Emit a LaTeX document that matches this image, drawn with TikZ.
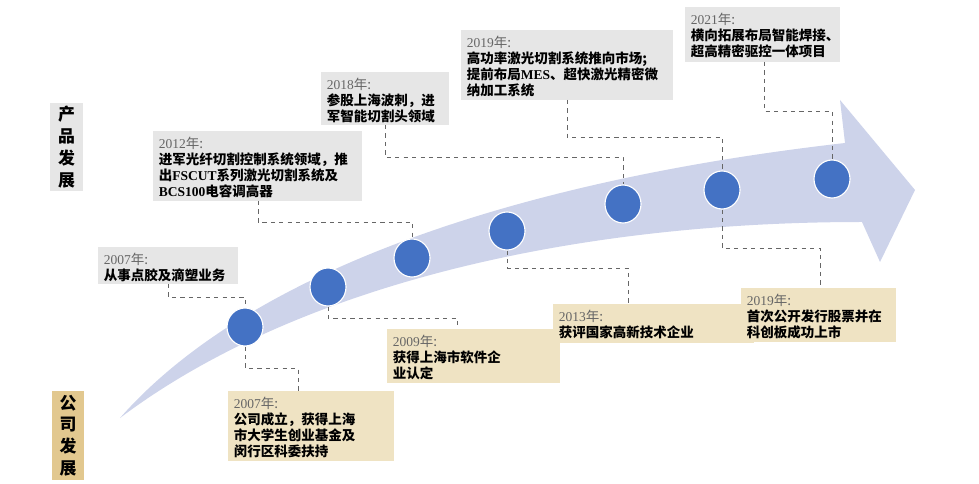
\documentclass[tikz,border=0pt]{standalone}
\usepackage{fontspec}
\usetikzlibrary{shapes.geometric}
\setmainfont{Liberation Serif}
\newfontfamily\cjk{Noto Sans CJK SC}
\definecolor{evgray}{RGB}{230,230,230}
\definecolor{evtan}{RGB}{239,227,195}
\definecolor{evdark}{RGB}{226,200,143}
\definecolor{evband}{RGB}{205,211,234}
\definecolor{evdot}{RGB}{68,114,196}
\newcommand{\yr}[1]{{\color{black!60}\rmfamily\mdseries #1\cjk 年:}\\}
\begin{document}
\begin{tikzpicture}[x=0.025cm,y=-0.025cm]
    \tikzstyle{every node}=[font=\cjk\fontsize{9.6}{11.4}\selectfont]
    \tikzset{evbox/.style={anchor=north west,inner sep=4pt,align=left,font=\cjk\bfseries\fontsize{9.6}{11.4}\selectfont},
             dot/.style={ellipse,fill=evdot,draw=white,line width=0.8pt,inner sep=0pt,minimum width=0.9cm,minimum height=0.95cm},
             link/.style={dashed,draw=black!60,line width=0.7pt}}
    \useasboundingbox (0,0) rectangle (979,484);
    % band
    \fill[evband] (120,418) .. controls (250,270) and (520,180) .. (845,143)
        -- (840,100) -- (915,190) -- (880,262) -- (862,222)
        .. controls (560,222) and (290,290) .. cycle;
    % side labels
    \fill[evgray] (50,103) rectangle (83,191);
    \node[align=center,font=\cjk\bfseries\fontsize{12}{15.5}\selectfont] (prod) at (66.5,147) {产\\品\\发\\展};
    \fill[evdark] (52,391) rectangle (84,480);
    \node[align=center,font=\cjk\bfseries\fontsize{12}{15.5}\selectfont] (comp) at (68,435.5) {公\\司\\发\\展};
    % boxes
    \fill[evgray] (98,247) rectangle (238,284);
    \node[evbox] (a) at (98,247) {\yr{2007}从事点胶及滴塑业务};
    \fill[evgray] (153,131) rectangle (362,201);
    \node[evbox] (b) at (153,131) {\yr{2012}进军光纤切割控制系统领域，推\\出{\rmfamily FSCUT}系列激光切割系统及\\{\rmfamily BCS100}电容调高器};
    \fill[evgray] (321,72) rectangle (449,125);
    \node[evbox] (c) at (321,72) {\yr{2018}参股上海波刺，进\\军智能切割头领域};
    \fill[evgray] (461,30) rectangle (673,100);
    \node[evbox] (d) at (461,30) {\yr{2019}高功率激光切割系统推向市场;\\提前布局{\rmfamily MES}、超快激光精密微\\纳加工系统};
    \fill[evgray] (685,7) rectangle (840,62);
    \node[evbox] (e) at (685,7) {\yr{2021}横向拓展布局智能焊接、\\超高精密驱控一体项目};
    \fill[evtan] (228,391) rectangle (394,461);
    \node[evbox] (f) at (228,391) {\yr{2007}公司成立，获得上海\\市大学生创业基金及\\闵行区科委扶持};
    \fill[evtan] (387,329) rectangle (560,383);
    \node[evbox] (g) at (387,329) {\yr{2009}获得上海市软件企\\业认定};
    \fill[evtan] (553,304) rectangle (754,343);
    \node[evbox] (h) at (553,304) {\yr{2013}获评国家高新技术企业};
    \fill[evtan] (741,288) rectangle (896,342);
    \node[evbox] (k) at (741,288) {\yr{2019}首次公开发行股票并在\\科创板成功上市};
    % dots
    \node[dot] (c1) at (245,327) {};
    \node[dot] (c2) at (328,287) {};
    \node[dot] (c3) at (412,258) {};
    \node[dot] (c4) at (507,231) {};
    \node[dot] (c5) at (623,204) {};
    \node[dot] (c6) at (722,190) {};
    \node[dot] (c7) at (832,179) {};
    % links
    \draw[link] (168,284) |- (245,297) -- (c1.north);
    \draw[link] (258,201) |- (412,222) -- (c3.north);
    \draw[link] (385,125) |- (623,157) -- (c5.north);
    \draw[link] (567,100) |- (722,137) -- (c6.north);
    \draw[link] (764,62) |- (832,111) -- (c7.north);
    \draw[link] (c1.south) |- (298,368) -- (298,391);
    \draw[link] (c2.south) |- (457,318) -- (457,329);
    \draw[link] (c4.south) |- (628,268) -- (628,304);
    \draw[link] (c6.south) |- (820,248) -- (820,288);
\end{tikzpicture}
\end{document}
